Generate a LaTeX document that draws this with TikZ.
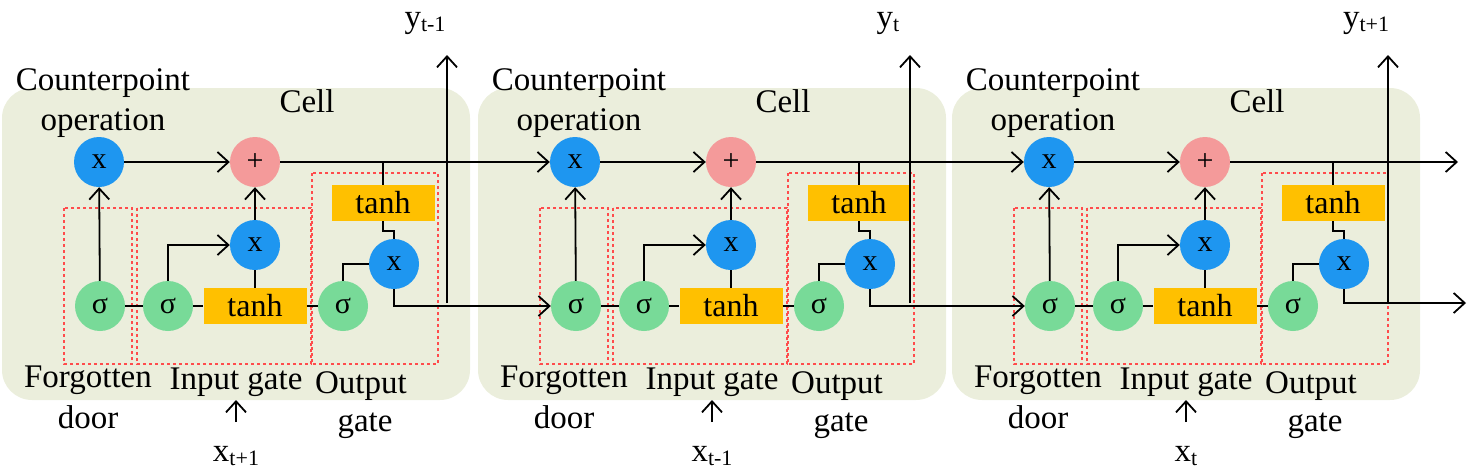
\documentclass[tikz,border=0pt]{standalone}
\usepackage{fontspec}
\setmainfont{Liberation Serif}
\usetikzlibrary{arrows.meta}
\definecolor{bgc}{HTML}{EBEEDC}
\definecolor{blu}{HTML}{1E96F0}
\definecolor{pnk}{HTML}{F49A9A}
\definecolor{grn}{HTML}{78DA98}
\definecolor{org}{HTML}{FFC000}
\begin{document}
\begin{tikzpicture}[x=1pt,y=-1pt,
  circ/.style={circle,minimum size=50pt,inner sep=0pt,font=\fontsize{30}{30}\selectfont},
  bx/.style={fill=org,minimum width=103pt,minimum height=36pt,inner sep=0pt,font=\fontsize{32}{32}\selectfont},
  lbl/.style={font=\fontsize{33}{35}\selectfont,inner sep=0pt},
  gate/.style={draw=red!70,dashed,line width=1.2pt},
  ln/.style={line width=1.8pt},
  ar/.style={ln,-{Straight Barb[length=11pt,width=20pt,line width=1.8pt]}}]
\useasboundingbox (0,0) rectangle (1469,474);
\foreach \i/\o/\ya/\yl/\xl in {1/0/447/{t-1}/{t+1},2/476/910/{t}/{t-1},3/950/1388/{t+1}/{t}}{
  \begin{scope}[xshift=\o pt]
  \fill[bgc,rounded corners=30pt] (2,88) rectangle (470,400);
  \draw[gate] (64,208) rectangle (132,364);
  \draw[gate] (137,208) rectangle (311,364);
  \draw[gate] (312,173) rectangle (438,364);
  \node[circ,fill=blu] (cx\i) at (99,162) {x};
  \node[circ,fill=pnk] (pl\i) at (255,162) {+};
  \node[circ,fill=blu] (ix\i) at (255,245) {x};
  \node[circ,fill=grn] (sf\i) at (100,306) {σ};
  \node[circ,fill=grn] (si\i) at (168,306) {σ};
  \node[bx] (th\i) at (255,306) {tanh};
  \node[circ,fill=grn] (so\i) at (343,306) {σ};
  \node[circ,fill=blu] (ox\i) at (394,264) {x};
  \node[bx] (ot\i) at (383,203) {tanh};
  \node[lbl] (l1\i) at (103,83) {Counterpoint};
  \node[lbl] (l2\i) at (103,123) {operation};
  \node[lbl] (l3\i) at (307,101) {Cell};
  \node[lbl] (l4\i) at (88,380) {Forgotten};
  \node[lbl] (l5\i) at (88,417) {door};
  \node[lbl] (l6\i) at (236,382) {Input gate};
  \node[lbl] (l7\i) at (361,386) {Output};
  \node[lbl] (l8\i) at (365,426) {gate};
  \node[lbl] (xin\i) at (236,456) {x\raisebox{-0.3ex}{\fontsize{22}{22}\selectfont\xl}};
  \coordinate (xa\i) at (236,422);
  \draw[ar] (xa\i) -- ++(0,-22);
  \draw[ar] (sf\i) -- (cx\i);
  \draw[ar] (cx\i) -- (pl\i);
  \draw[ar] (ix\i) -- (pl\i);
  \draw[ln] (sf\i) -- (si\i);
  \draw[ln] (si\i) -- (th\i);
  \draw[ln] (th\i) -- (so\i);
  \draw[ln] (th\i) -- (ix\i);
  \draw[ar] (si\i.north) |- (ix\i);
  \draw[ln] (so\i.north) |- (ox\i);
  \draw[ln] (ot\i.south) -- ++(0,10) -| (ox\i.north);
  \coordinate (ct\i) at (383,162);
  \draw[ln] (ct\i) -- (ot\i);
  \end{scope}
  \coordinate (yb\i) at (\ya,303);
  \coordinate (yt\i) at (\ya,55);
  \draw[ar] (yb\i) -- (yt\i);
  \node[lbl] (yl\i) at (\ya-22,23) {y\raisebox{-0.3ex}{\fontsize{22}{22}\selectfont\yl}};
}
\draw[ar] (pl1) -- (cx2);
\draw[ar] (pl2) -- (cx3);
\coordinate (endc) at (1458,162);
\coordinate (endo) at (1466,303);
\draw[ar] (pl3) -- (endc);
\draw[ar] (ox1) |- (sf2);
\draw[ar] (ox2) |- (sf3);
\draw[ar] (ox3) |- (endo);
\end{tikzpicture}
\end{document}
